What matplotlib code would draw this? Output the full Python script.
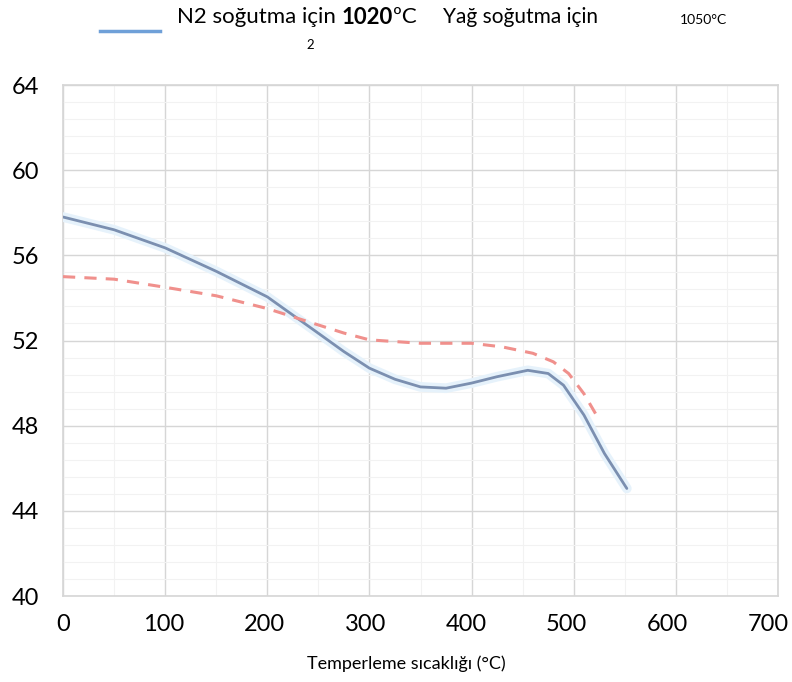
import numpy as np
import matplotlib.pyplot as plt
from matplotlib.ticker import MultipleLocator
import matplotlib.patheffects as pe
import matplotlib.transforms as mtransforms

plt.rcParams['font.family'] = ['Lato', 'DejaVu Sans']

# N2 soğutma (1020 ºC)
n2_x = [0, 50, 100, 150, 200, 250, 275, 300, 325, 350, 375, 400, 425, 455, 475, 490, 510, 530, 552]
n2_y = [57.8, 57.2, 56.35, 55.25, 54.05, 52.34, 51.48, 50.7, 50.18, 49.82, 49.76, 50.0, 50.3, 50.6, 50.45, 49.9, 48.5, 46.7, 45.05]

# Yağ soğutma (1050 °C)
yag_x = [0, 50, 100, 150, 200, 250, 275, 300, 350, 400, 430, 460, 480, 495, 510, 524]
yag_y = [55.0, 54.88, 54.5, 54.1, 53.5, 52.73, 52.35, 52.03, 51.87, 51.87, 51.7, 51.4, 51.0, 50.45, 49.5, 48.35]

x_ticks = [0, 100, 200, 300, 400, 500, 600, 700]
y_ticks = [40, 44, 48, 52, 56, 60, 64]

W, H = 792, 682
fig = plt.figure(figsize=(W / 100, H / 100), dpi=100)
ax = fig.add_axes([63 / W, 1 - 596 / H, (778 - 63) / W, (596 - 85) / H])

ax.plot(n2_x, n2_y, color='#7b8fb0', lw=2.0, solid_capstyle='round',
        path_effects=[pe.Stroke(linewidth=7, foreground='#e6f2fb'), pe.Normal()], zorder=3)
ax.plot(yag_x, yag_y, color='#f0908c', lw=2.2, dashes=(4, 3), zorder=3)

ax.set_xlim(0, 700)
ax.set_ylim(40, 64)
ax.set_xticks(x_ticks)
ax.set_yticks(y_ticks)
ax.xaxis.set_minor_locator(MultipleLocator(50))
ax.yaxis.set_minor_locator(MultipleLocator(0.8))
ax.grid(which='major', color='#d6d6d6', lw=1.0)
ax.grid(which='minor', color='#f2f2f2', lw=0.8)
ax.set_axisbelow(True)
for s in ax.spines.values():
    s.set_color('#d6d6d6')
    s.set_linewidth(1.2)
ax.tick_params(which='both', length=0)
ax.tick_params(axis='x', labelsize=17, pad=13)
ax.tick_params(axis='y', labelsize=17, pad=17)

# the x labels sit a little left of their gridlines, more so to the right
for val, lab in zip(x_ticks, ax.get_xticklabels()):
    off = mtransforms.ScaledTranslation(-val / 700 * 10 / 100, 0, fig.dpi_scale_trans)
    lab.set_transform(lab.get_transform() + off)

fig.text(406 / W, 1 - 664 / H, 'Temperleme sıcaklığı (°C)', ha='center', va='center', fontsize=13)

# legend fragments at top
fig.add_artist(plt.Line2D([100 / W, 160 / W], [1 - 31 / H, 1 - 31 / H], color='#6fa0d8', lw=2.5))
fig.canvas.draw()
r = fig.canvas.get_renderer()
x0 = 177
parts = [('N2 soğutma için ', 'normal'), ('1020', 'bold'), ('ºC', 'normal')]
for s, w in parts:
    t = fig.text(x0 / W, 1 - 17 / H, s, ha='left', va='center', fontsize=16, fontweight=w)
    x0 = t.get_window_extent(r).x1
fig.text(443 / W, 1 - 17 / H, 'Yağ soğutma için', ha='left', va='center', fontsize=15)
fig.text(680 / W, 1 - 20 / H, '1050°C', ha='left', va='center', fontsize=10)
fig.text(310 / W, 1 - 45 / H, '2', ha='center', va='center', fontsize=9.5)

fig.savefig('out.png', dpi=100, facecolor='white')
